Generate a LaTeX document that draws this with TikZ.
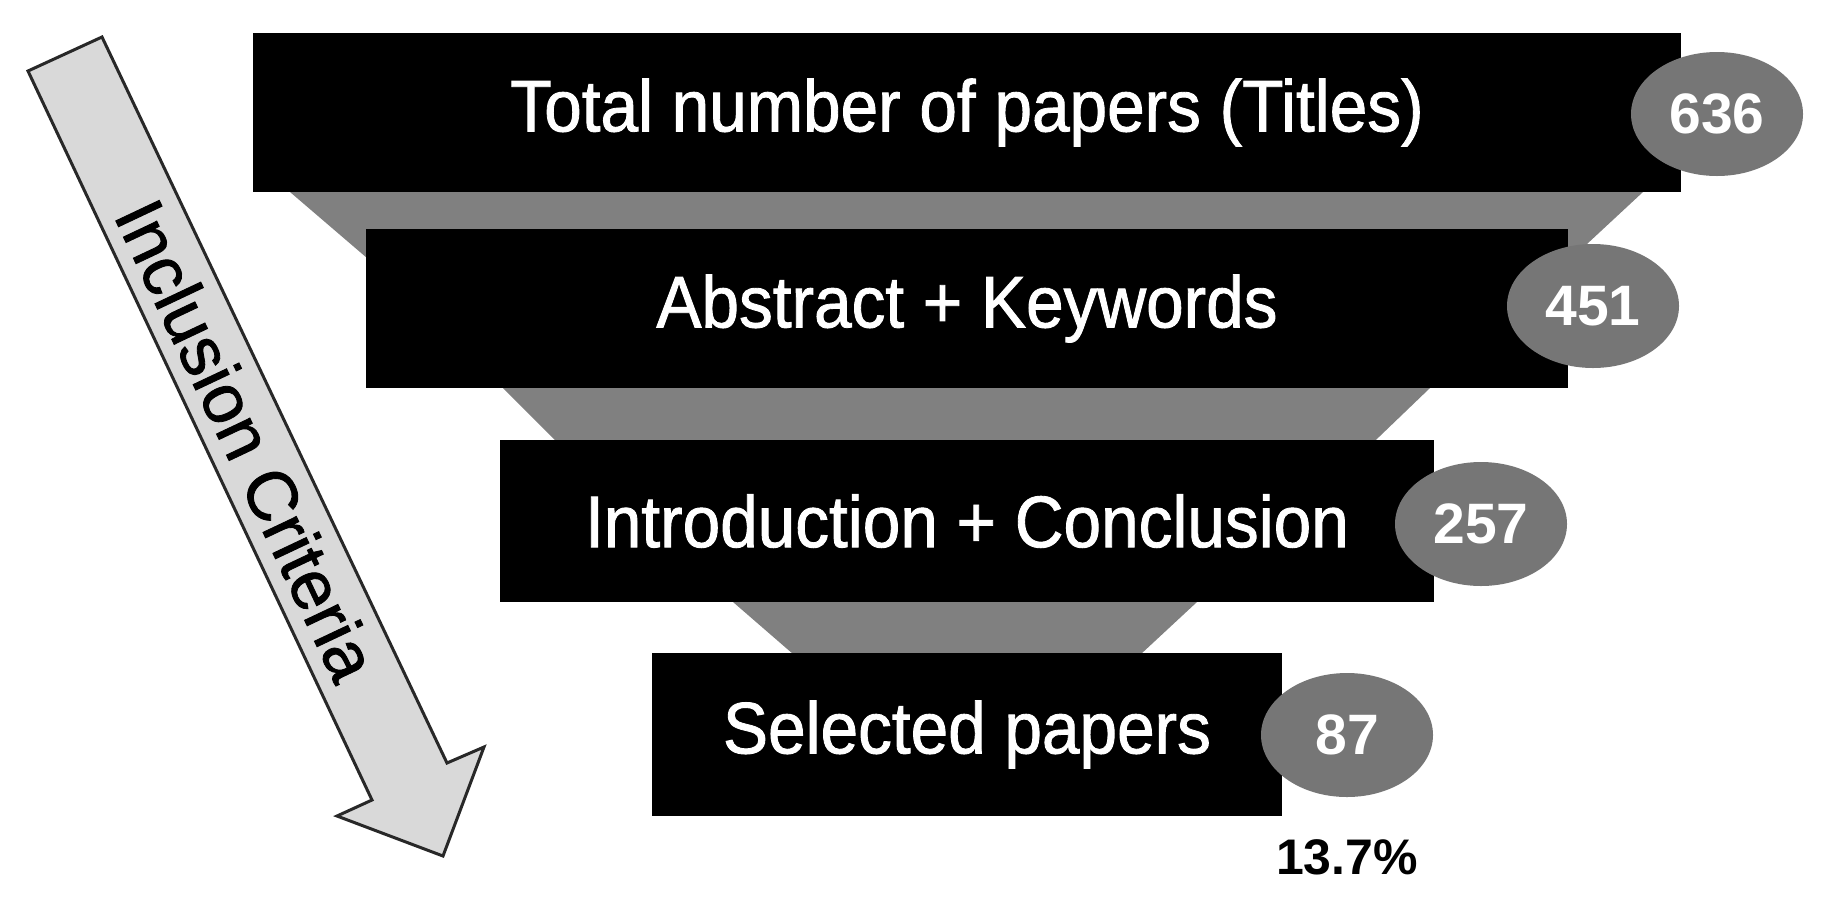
\documentclass[tikz,border=0pt]{standalone}
\usepackage{fontspec}
\setmainfont{Liberation Sans}
\newfontfamily\boxfont[FakeStretch=0.925,FakeBold=1.2]{Liberation Sans}
\newfontfamily\arrowfont[FakeBold=1.2]{Liberation Sans}
\usetikzlibrary{shapes.geometric}
\definecolor{trapgray}{RGB}{128,128,128}
\definecolor{elgray}{RGB}{118,118,118}
\definecolor{arrowfill}{RGB}{217,217,217}
\definecolor{arrowline}{RGB}{40,40,40}
\begin{document}
\begin{tikzpicture}[x=1pt,y=-1pt,
  stage/.style={fill=black, text=white, inner sep=0pt, font=\boxfont\fontsize{73}{80}\selectfont},
  count/.style={ellipse, fill=elgray, text=white, inner sep=0pt, minimum width=172pt, minimum height=124pt, font=\bfseries\fontsize{57}{60}\selectfont},
  funnel/.style={fill=trapgray},
  bigarrow/.style={draw=arrowline, fill=arrowfill, line width=3pt, line join=miter}]
\useasboundingbox (0,0) rectangle (1825,898);
% big arrow
\draw[bigarrow] (28,71) -- (102,37) -- (447,763) -- (484,747) -- (443,856) -- (337,816) -- (372,800) -- cycle;
\node[rotate=-64.7, font=\arrowfont\fontsize{70}{70}\selectfont, inner sep=0pt] (crit) at (247,440) {Inclusion Criteria};
% funnel pieces
\fill[funnel] (290,192) -- (1643,192) -- (1559,270) -- (381,270) -- cycle;
\fill[funnel] (503,388) -- (1430,388) -- (1355,460) -- (575,460) -- cycle;
\fill[funnel] (733,602) -- (1197,602) -- (1113,680) -- (823,680) -- cycle;
% stages
\node[stage, minimum width=1428pt, minimum height=159pt] (b1) at (967,112.5) {Total number of papers (Titles)};
\node[stage, minimum width=1202pt, minimum height=159pt] (b2) at (967,308.5) {Abstract + Keywords};
\node[stage, minimum width=934pt, minimum height=162pt] (b3) at (967,521) {Introduction + Conclusion};
\node[stage, minimum width=630pt, minimum height=163pt] (b4) at (967,734.5) {Selected papers};
% counts
\node[count] (n1) at (1717,114) {636};
\node[count] (n2) at (1593,306) {451};
\node[count] (n3) at (1481,524) {257};
\node[count] (n4) at (1347,735) {87};
\node[font=\bfseries\fontsize{50}{50}\selectfont, inner sep=0pt] (pct) at (1347,857) {13.7\%};
\end{tikzpicture}
\end{document}
